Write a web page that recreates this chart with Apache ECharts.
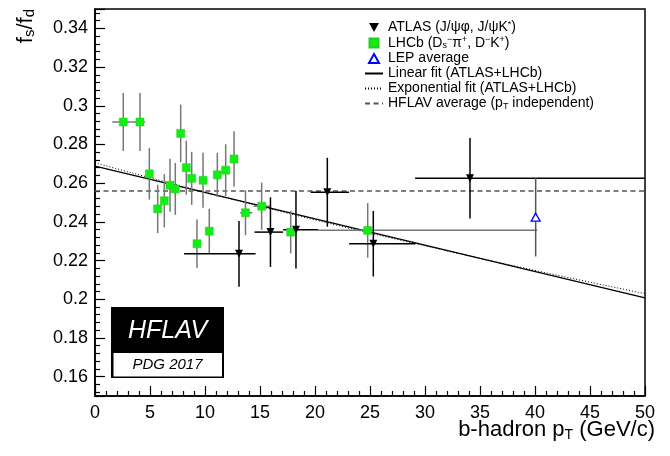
<!DOCTYPE html>
<html>
<head>
<meta charset="utf-8">
<script src="https://cdn.jsdelivr.net/npm/echarts@6/dist/echarts.min.js"></script>
<style>
    html, body { margin: 0; padding: 0; background: #fff; }
    #fsfd { width: 670px; height: 456px; }
</style>
</head>
<body>
<div id="fsfd"></div>
<script>
    // LHCb (Ds pi, D K) points
    var lhcbX    = [2.57, 4.09, 4.94, 5.70, 6.30, 6.82, 7.30, 7.79, 8.30, 8.79, 9.27, 9.82, 10.39, 11.12, 11.88, 12.64, 13.68, 15.15, 17.79, 24.79];
    var lhcbY    = [0.2916, 0.2916, 0.2648, 0.2467, 0.2509, 0.2589, 0.2570, 0.2857, 0.2680, 0.2625, 0.2287, 0.2615, 0.2352, 0.2643, 0.2667, 0.2725, 0.2447, 0.2481, 0.2347, 0.2356];
    var lhcbErr  = [0.0150, 0.0150, 0.0133, 0.0125, 0.0138, 0.0137, 0.0134, 0.0149, 0.0140, 0.0137, 0.0125, 0.0142, 0.0115, 0.0114, 0.0134, 0.0143, 0.0116, 0.0122, 0.0110, 0.0141];
    var lhcbXlo  = [1.57, 3.30, 4.70, 5.45, 6.05, 6.57, 7.05, 7.55, 8.05, 8.55, 9.02, 9.57, 10.14, 10.87, 11.63, 12.39, 13.20, 14.40, 17.50, 20.30];
    var lhcbXhi  = [3.30, 4.55, 5.20, 5.95, 6.55, 7.07, 7.55, 8.05, 8.55, 9.05, 9.52, 10.07, 10.64, 11.37, 12.13, 12.89, 14.30, 15.90, 18.10, 40.20];

    // ATLAS (J/psi phi, J/psi K*) points
    var atlasX   = [13.09, 15.95, 18.27, 21.12, 25.30, 34.09];
    var atlasY   = [0.2235, 0.2347, 0.2359, 0.2553, 0.2287, 0.2625];
    var atlasErr = [0.0170, 0.0180, 0.0200, 0.0178, 0.0169, 0.0208];
    var atlasXlo = [8.10, 14.50, 17.10, 19.60, 23.10, 29.10];
    var atlasXhi = [14.60, 17.10, 20.30, 23.10, 29.10, 50.00];

    // LEP average
    var lepX = [40.06];
    var lepY = [0.2424];
    var lepErr = [0.0203];

    // fits and average
    var linFitX = [0, 50];
    var linFitY = [0.2688, 0.2007];
    var expFitX = [0, 10, 20, 30, 40, 50];
    var expFitY = [0.2705, 0.2553, 0.2410, 0.2276, 0.2149, 0.2029];
    var avgX = [0, 50];
    var avgY = [0.2560, 0.2560];

    var FONT = "'Liberation Sans', Arial, Helvetica, sans-serif";

    function pairs(xs, ys) {
        var out = [];
        for (var i = 0; i < xs.length; i++) out.push([xs[i], ys[i]]);
        return out;
    }
    function errRows(xs, ys, err, lo, hi) {
        var out = [];
        for (var i = 0; i < xs.length; i++) {
            out.push([xs[i], ys[i], lo ? lo[i] : xs[i], hi ? hi[i] : xs[i], ys[i] - err[i], ys[i] + err[i]]);
        }
        return out;
    }
    function errBars(color) {
        return function (params, api) {
            var l = api.coord([api.value(2), api.value(1)]);
            var r = api.coord([api.value(3), api.value(1)]);
            var b = api.coord([api.value(0), api.value(4)]);
            var t = api.coord([api.value(0), api.value(5)]);
            var st = { stroke: color, lineWidth: 1.5 };
            return {
                type: 'group',
                children: [
                    { type: 'line', shape: { x1: l[0], y1: l[1], x2: r[0], y2: r[1] }, style: st },
                    { type: 'line', shape: { x1: b[0], y1: b[1], x2: t[0], y2: t[1] }, style: st }
                ]
            };
        };
    }

    var legendText = {
        'ATLAS': '{t|ATLAS (J/ψφ, J/ψK}{sup|*}{t|)}',
        'LHCb': '{t|LHCb (D}{sub|s}{sup|−}{t|π}{sup|+}{t|, D}{sup|−}{t|K}{sup|+}{t|)}',
        'LEP': '{t|LEP average}',
        'Linear': '{t|Linear fit (ATLAS+LHCb)}',
        'Exponential': '{t|Exponential fit (ATLAS+LHCb)}',
        'HFLAV': '{t|HFLAV average (p}{sub|T}{t| independent)}'
    };

    var chart = echarts.init(document.getElementById('fsfd'));

    var option = {
        animation: false,
        backgroundColor: '#fff',
        grid: {
            left: 95, right: 25, top: 9, bottom: 60,
            show: true, borderColor: '#000', borderWidth: 1.5
        },
        legend: {
            data: [
                { name: 'ATLAS' },
                { name: 'LHCb' },
                { name: 'LEP' },
                { name: 'Linear', itemStyle: { opacity: 0 } },
                { name: 'Exponential', itemStyle: { opacity: 0 } },
                { name: 'HFLAV', itemStyle: { opacity: 0 } }
            ],
            orient: 'vertical',
            left: 364, top: 20,
            padding: 0,
            itemWidth: 18, itemHeight: 9,
            itemGap: 1,
            itemTextGap: 6,
            selectedMode: false,
            formatter: function (name) { return legendText[name]; },
            textStyle: {
                color: '#000',
                fontFamily: FONT,
                fontSize: 14,
                rich: {
                    t: { fontFamily: FONT, fontSize: 14, lineHeight: 15, color: '#000' },
                    sub: { fontFamily: FONT, fontSize: 9, lineHeight: 7, verticalAlign: 'bottom', color: '#000' },
                    sup: { fontFamily: FONT, fontSize: 9, lineHeight: 7, verticalAlign: 'top', color: '#000' }
                }
            }
        },
        xAxis: {
            type: 'value',
            min: 0, max: 50, interval: 5,
            axisLine: { lineStyle: { color: '#000', width: 1.5 } },
            axisTick: { inside: true, length: 10, lineStyle: { color: '#000', width: 1.2 } },
            minorTick: { show: true, splitNumber: 5, length: 5, lineStyle: { color: '#000', width: 1.2 } },
            splitLine: { show: false },
            axisLabel: { color: '#000', fontFamily: FONT, fontSize: 18, margin: 8 }
        },
        yAxis: {
            type: 'value',
            min: 0.15, max: 0.35, splitNumber: 10,
            axisLine: { lineStyle: { color: '#000', width: 1.5 } },
            axisTick: { inside: true, length: 10, lineStyle: { color: '#000', width: 1.2 } },
            minorTick: { show: true, splitNumber: 5, length: 5, lineStyle: { color: '#000', width: 1.2 } },
            splitLine: { show: false },
            axisLabel: { color: '#000', fontFamily: FONT, fontSize: 18, margin: 7, showMinLabel: false, showMaxLabel: false }
        },
        graphic: [
            {
                type: 'text', x: 26, y: 9, rotation: Math.PI / 2,
                style: {
                    text: '{m|f}{s|s}{m|/f}{s|d}',
                    align: 'right', verticalAlign: 'middle',
                    rich: {
                        m: { fontFamily: FONT, fontSize: 22, lineHeight: 22, fill: '#000' },
                        s: { fontFamily: FONT, fontSize: 15, lineHeight: 9, verticalAlign: 'bottom', fill: '#000' }
                    }
                }
            },
            {
                type: 'text', x: 655, y: 430,
                style: {
                    text: '{m|b-hadron p}{s|T}{m| (GeV/c)}',
                    align: 'right', verticalAlign: 'middle',
                    rich: {
                        m: { fontFamily: FONT, fontSize: 22, lineHeight: 24, fill: '#000' },
                        s: { fontFamily: FONT, fontSize: 14, lineHeight: 9, verticalAlign: 'bottom', fill: '#000' }
                    }
                }
            },
            // HFLAV logo
            { type: 'rect', shape: { x: 111, y: 307, width: 113, height: 71 }, style: { fill: '#000' } },
            { type: 'rect', shape: { x: 113.5, y: 353, width: 108.5, height: 23.5 }, style: { fill: '#fff' } },
            {
                type: 'text', x: 167.5, y: 331,
                style: { text: 'HFLAV', fill: '#fff', fontFamily: FONT, fontSize: 25, fontStyle: 'italic', align: 'center', verticalAlign: 'middle' }
            },
            {
                type: 'text', x: 167.5, y: 365,
                style: { text: 'PDG 2017', fill: '#000', fontFamily: FONT, fontSize: 15, fontStyle: 'italic', align: 'center', verticalAlign: 'middle' }
            }
        ],
        series: [
            {
                name: 'HFLAV', type: 'line', data: pairs(avgX, avgY),
                symbol: 'none', z: 2,
                lineStyle: { color: '#555', width: 1.5, type: [5, 3.5] },
                itemStyle: { color: '#555' }
            },
            {
                name: 'Linear', type: 'line', data: pairs(linFitX, linFitY),
                symbol: 'none', z: 2,
                lineStyle: { color: '#000', width: 1.5 },
                itemStyle: { color: '#000' }
            },
            {
                name: 'Exponential', type: 'line', data: pairs(expFitX, expFitY),
                symbol: 'none', smooth: true, z: 2,
                lineStyle: { color: '#000', width: 1, type: [1, 2] },
                itemStyle: { color: '#000' }
            },
            {
                name: 'lhcbErr', type: 'custom', z: 3,
                renderItem: errBars('#777'),
                data: errRows(lhcbX, lhcbY, lhcbErr, lhcbXlo, lhcbXhi)
            },
            {
                name: 'atlasErr', type: 'custom', z: 3,
                renderItem: errBars('#000'),
                data: errRows(atlasX, atlasY, atlasErr, atlasXlo, atlasXhi)
            },
            {
                name: 'lepErr', type: 'custom', z: 3,
                renderItem: errBars('#555'),
                data: errRows(lepX, lepY, lepErr)
            },
            {
                name: 'LHCb', type: 'scatter', z: 4,
                symbol: 'path://M0,0L10,0L10,10L0,10Z', symbolSize: 8,
                itemStyle: { color: '#11ee11', borderColor: '#22cc22', borderWidth: 0.5, opacity: 1 },
                data: pairs(lhcbX, lhcbY)
            },
            {
                name: 'ATLAS', type: 'scatter', z: 4,
                symbol: 'path://M0,0L10,0L5,9Z', symbolSize: [8, 8],
                itemStyle: { color: '#000', opacity: 1 },
                data: pairs(atlasX, atlasY)
            },
            {
                name: 'LEP', type: 'scatter', z: 4,
                symbol: 'path://M5,0L10,9L0,9Z', symbolSize: [9, 8],
                itemStyle: { color: '#fff', borderColor: '#0000ff', borderWidth: 1.3, opacity: 1 },
                data: pairs(lepX, lepY)
            }
        ]
    };

    chart.setOption(option);
</script>
</body>
</html>
